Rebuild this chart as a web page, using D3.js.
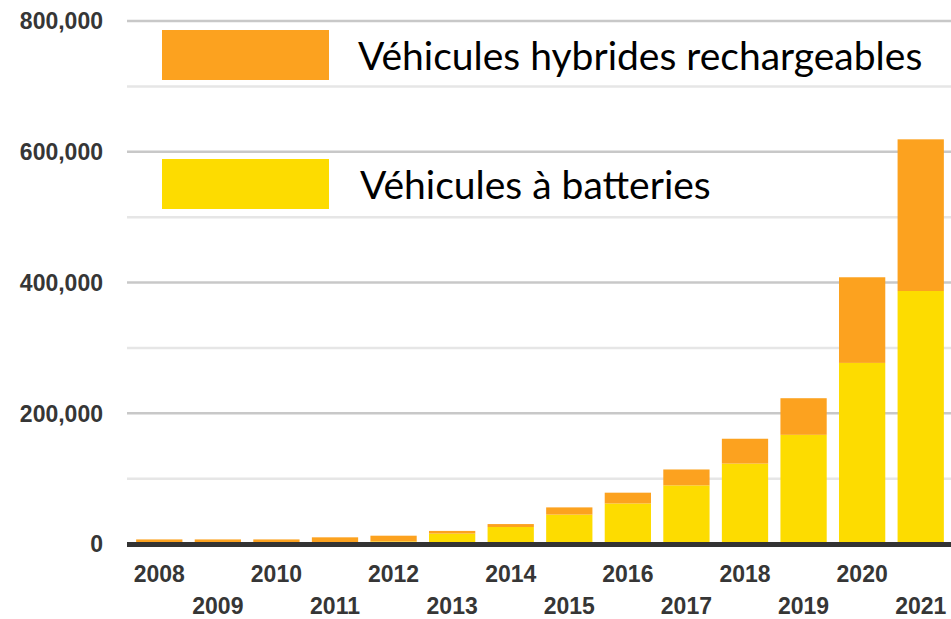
<!DOCTYPE html>
<html lang="fr">
<head>
<meta charset="utf-8">
<title>Véhicules électriques</title>
<script src="https://d3js.org/d3.v7.min.js"></script>
<style>
  body { margin: 0; background: #fff; }
  .ylab, .xlab { font-family: "Liberation Sans", Arial, sans-serif; font-weight: bold; font-size: 23px; fill: #363636; }
  .leg { font-family: Lato, "Open Sans", sans-serif; font-size: 39px; fill: #000; }
</style>
</head>
<body>
<div id="chart"></div>
<script>
// data
var years = [2008, 2009, 2010, 2011, 2012, 2013, 2014, 2015, 2016, 2017, 2018, 2019, 2020, 2021];
var batteries = [500, 500, 500, 1500, 4000, 16000, 26000, 45000, 62000, 89700, 123000, 167000, 277000, 387000];
var hybrides = [6500, 6500, 6500, 8700, 8700, 4000, 4500, 11000, 16500, 24300, 38000, 56000, 131000, 232000];
var yTicks = [0, 200000, 400000, 600000, 800000];
var gridTicks = [100000, 300000, 500000, 700000];
var legendLabels = ["Véhicules hybrides rechargeables", "Véhicules à batteries"];

var width = 951, height = 619;
var colors = { batteries: "#fddc00", hybrides: "#fca21f" };

var svg = d3.select("#chart").append("svg")
    .attr("width", width)
    .attr("height", height);

var x = d3.scaleBand()
    .domain(years)
    .range([130, 950])
    .paddingInner(0.21)
    .paddingOuter(0.105);

var y = d3.scaleLinear()
    .domain([0, 800000])
    .range([544, 21]);

// gridlines
svg.append("g").selectAll("line")
    .data(gridTicks)
    .enter().append("line")
    .attr("x1", 127).attr("x2", width)
    .attr("y1", function(d) { return y(d); })
    .attr("y2", function(d) { return y(d); })
    .attr("stroke", "#e6e6e6")
    .attr("stroke-width", 2.5);

svg.append("g").selectAll("line")
    .data(yTicks.slice(1))
    .enter().append("line")
    .attr("x1", 127).attr("x2", width)
    .attr("y1", function(d) { return y(d); })
    .attr("y2", function(d) { return y(d); })
    .attr("stroke", "#c8c8c8")
    .attr("stroke-width", 2.5);

// y labels
svg.append("g").selectAll("text")
    .data(yTicks)
    .enter().append("text")
    .attr("class", "ylab")
    .attr("x", 103)
    .attr("y", function(d) { return y(d); })
    .attr("dy", "0.36em")
    .attr("text-anchor", "end")
    .text(function(d) { return d3.format(",")(d); });

// stacked bars
var rows = years.map(function(yr, i) {
    return { year: yr, batteries: batteries[i], hybrides: hybrides[i] };
});
var stack = d3.stack().keys(["batteries", "hybrides"]);
var series = stack(rows);

svg.append("g").selectAll("g")
    .data(series)
    .enter().append("g")
    .attr("fill", function(d) { return colors[d.key]; })
    .selectAll("rect")
    .data(function(d) { return d; })
    .enter().append("rect")
    .attr("x", function(d) { return x(d.data.year); })
    .attr("width", x.bandwidth())
    .attr("y", function(d) { return y(d[1]); })
    .attr("height", function(d) { return y(d[0]) - y(d[1]); });

// baseline
svg.append("line")
    .attr("x1", 127).attr("x2", width)
    .attr("y1", y(0) + 0.5).attr("y2", y(0) + 0.5)
    .attr("stroke", "#333")
    .attr("stroke-width", 5);

// x labels, staggered
svg.append("g").selectAll("text")
    .data(years)
    .enter().append("text")
    .attr("class", "xlab")
    .attr("x", function(d) { return x(d) + x.bandwidth() / 2; })
    .attr("y", function(d, i) { return i % 2 === 0 ? 582 : 614; })
    .attr("text-anchor", "middle")
    .text(function(d) { return d; });

// legend
var legend = svg.append("g");
var legColors = [colors.hybrides, colors.batteries];
var legTop = [30, 159];
legend.selectAll("rect")
    .data(legendLabels)
    .enter().append("rect")
    .attr("x", 162)
    .attr("y", function(d, i) { return legTop[i]; })
    .attr("width", 167)
    .attr("height", 50)
    .attr("fill", function(d, i) { return legColors[i]; });

legend.selectAll("text")
    .data(legendLabels)
    .enter().append("text")
    .attr("class", "leg")
    .attr("x", function(d, i) { return i === 0 ? 358 : 360; })
    .attr("y", function(d, i) { return legTop[i] + 40; })
    .text(function(d) { return d; });
</script>
</body>
</html>
